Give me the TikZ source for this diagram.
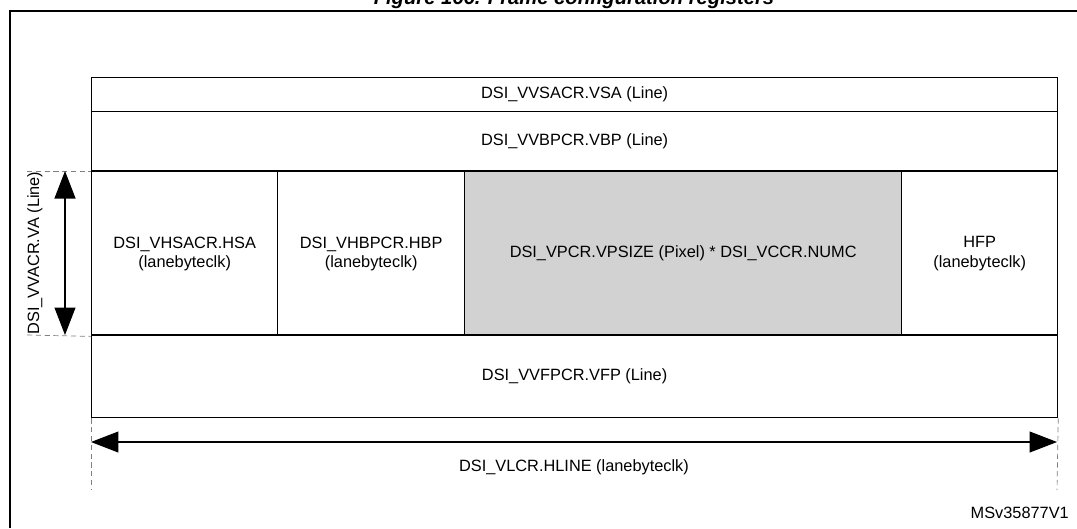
\documentclass[tikz,border=0pt]{standalone}
\usepackage{fontspec}
\setmainfont{Liberation Sans}
\usetikzlibrary{arrows.meta,positioning,calc}

\begin{document}
\begin{tikzpicture}[
    x=0.02cm, y=-0.02cm,
    field/.style={draw, thick, inner sep=0pt, align=center, font=\fontsize{9.3}{11}\selectfont},
    label/.style={font=\fontsize{9.3}{11}\selectfont},
    guide/.style={densely dashed, gray},
    arrow/.style={{Triangle[length=5.5mm,width=4.2mm]}-{Triangle[length=5.5mm,width=4.2mm]}, semithick},
]
    \useasboundingbox (0,0) rectangle (1077,528);
    \node[font=\bfseries\itshape\fontsize{11.5}{13}\selectfont] (title) at (574,-1) {Figure 166. Frame configuration registers};
    \draw[thick] (10,528) -- (10,11) -- (1077,11);

    % rows
    \node[field, minimum width=19.32cm, minimum height=0.68cm, anchor=north west] (vsa) at (91,77) {DSI\_VVSACR.VSA (Line)};
    \node[field, minimum width=19.32cm, minimum height=1.2cm, anchor=north west] (vbp) at (91,111) {DSI\_VVBPCR.VBP (Line)};
    \node[field, minimum width=3.72cm, minimum height=3.28cm, anchor=north west] (hsa) at (91,171) {DSI\_VHSACR.HSA\\(lanebyteclk)};
    \node[field, minimum width=3.74cm, minimum height=3.28cm, anchor=north west] (hbp) at (277,171) {DSI\_VHBPCR.HBP\\(lanebyteclk)};
    \node[field, fill=gray!35, minimum width=8.74cm, minimum height=3.28cm, anchor=north west] (act) at (464,171) {DSI\_VPCR.VPSIZE (Pixel) * DSI\_VCCR.NUMC};
    \node[field, minimum width=3.12cm, minimum height=3.28cm, anchor=north west] (hfp) at (901,171) {HFP\\(lanebyteclk)};
    \node[field, minimum width=19.32cm, minimum height=1.64cm, anchor=north west] (vfp) at (91,335) {DSI\_VVFPCR.VFP (Line)};
    \draw[very thick] (91,171) -- (1057,171) (91,335) -- (1057,335);

    % vertical active lines
    \coordinate (vtop) at (27,171);
    \coordinate (vbot) at (27,335);
    \draw[guide] (vtop) -- (hsa.north west);
    \draw[guide] (vbot) -- (hsa.south west);
    \draw[arrow] (65,171) -- (65,335);
    \node[label, rotate=90] (va) at (35,253) {DSI\_VVACR.VA (Line)};

    % horizontal line length
    \coordinate (hl) at (91,490);
    \coordinate (hr) at (1057,490);
    \draw[guide] (vfp.south west) -- (hl);
    \draw[guide] (vfp.south east) -- (hr);
    \draw[arrow] (91,442) -- (1057,442);
    \node[label] (hline) at (574,467) {DSI\_VLCR.HLINE (lanebyteclk)};

    \node[label, anchor=east] (ref) at (1075,513) {MSv35877V1};
\end{tikzpicture}
\end{document}
